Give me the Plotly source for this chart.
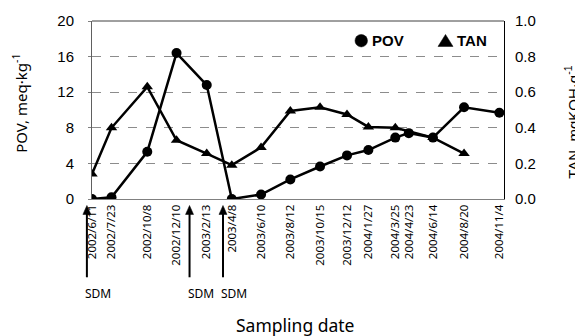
import plotly.graph_objects as go
from datetime import date

dates = ["2002-06-11", "2002-07-23", "2002-10-08", "2002-12-10", "2003-02-13",
         "2003-04-08", "2003-06-10", "2003-08-12", "2003-10-15", "2003-12-12",
         "2004-01-27", "2004-03-25", "2004-04-23", "2004-06-14", "2004-08-20",
         "2004-11-04"]
tick_labels = ["2002/6/11", "2002/7/23", "2002/10/8", "2002/12/10", "2003/2/13",
               "2003/4/8", "2003/6/10", "2003/8/12", "2003/10/15", "2003/12/12",
               "2004/1/27", "2004/3/25", "2004/4/23", "2004/6/14", "2004/8/20",
               "2004/11/4"]
pov = [0.0, 0.2, 5.3, 16.4, 12.8, 0.0, 0.5, 2.2, 3.65, 4.9, 5.5, 6.9, 7.4, 6.9, 10.3, 9.7]
tan = [0.14, 0.40, 0.63, 0.33, 0.255, 0.19, 0.29, 0.495, 0.515, 0.475, 0.405, 0.40,
       None, 0.345, 0.255, None]
sdm_dates = ["2002-05-31", "2003-01-07", "2003-03-20"]
x_range = ["2002-06-11", "2004-11-14"]

# page geometry (pixels); the page body adds an 8px offset
OFF = 8
W, H = 583, 336
PX0, PX1, PY0, PY1 = 92, 504, 21, 199.5   # plot area in window pixels
L, T = PX0 - OFF, PY0 - OFF
R = (W + OFF) - PX1
B = (H + OFF) - PY1
PW, PH = PX1 - PX0, PY1 - PY0


def date_frac(d):
    d0 = date.fromisoformat(x_range[0])
    d1 = date.fromisoformat(x_range[1])
    return (date.fromisoformat(d) - d0).days / (d1 - d0).days


def fx(px):
    return (px - PX0) / PW


def fy(py):
    return (PY1 - py) / PH


def tri_path(cx, cy, half_w, h):
    # upward triangle, pixel centre -> paper coords
    return (f"M {fx(cx - half_w)} {fy(cy + h / 2)} L {fx(cx + half_w)} {fy(cy + h / 2)} "
            f"L {fx(cx)} {fy(cy - h / 2)} Z")


fig = go.Figure()
fig.add_trace(go.Scatter(x=dates, y=pov, mode="lines+markers", name="POV", showlegend=False,
                         line=dict(color="black", width=2.5),
                         marker=dict(symbol="circle", size=10, color="black")))
fig.add_trace(go.Scatter(x=dates, y=tan, mode="lines+markers", name="TAN", yaxis="y2",
                         showlegend=False, connectgaps=True,
                         line=dict(color="black", width=2.5),
                         marker=dict(symbol="triangle-up", size=10, color="black")))

shapes = [dict(type="line", xref="paper", yref="paper", x0=0, x1=1, y0=1, y1=1,
               line=dict(color="#404040", width=1))]

# SDM arrows
for d in sdm_dates:
    xf = date_frac(d)
    xp = PX0 + xf * PW
    shapes.append(dict(type="line", xref="paper", yref="paper", x0=xf, x1=xf,
                       y0=fy(278), y1=fy(212), line=dict(color="black", width=2)))
    shapes.append(dict(type="path", xref="paper", yref="paper",
                       path=tri_path(xp, 210.5, 4, 9), fillcolor="black",
                       line=dict(color="black", width=0.5)))
    fig.add_annotation(x=xf, xref="paper", y=fy(294), yref="paper", text="SDM",
                       showarrow=False, xanchor="left", yanchor="middle", xshift=-4,
                       font=dict(family="Noto Sans", size=12, color="black"))

# legend (symbol + label)
shapes.append(dict(type="circle", xref="paper", yref="paper",
                   x0=fx(355), x1=fx(367.5), y0=fy(47), y1=fy(34.5),
                   fillcolor="black", line=dict(color="black", width=0.5)))
shapes.append(dict(type="path", xref="paper", yref="paper",
                   path=tri_path(445.5, 40.5, 7.5, 12), fillcolor="black",
                   line=dict(color="black", width=0.5)))
fig.add_annotation(text="<b>POV</b>", xref="paper", yref="paper", x=fx(370), y=fy(41),
                   showarrow=False, xanchor="left", yanchor="middle",
                   font=dict(family="Liberation Sans", size=15, color="black"))
fig.add_annotation(text="<b>TAN</b>", xref="paper", yref="paper", x=fx(455), y=fy(41),
                   showarrow=False, xanchor="left", yanchor="middle",
                   font=dict(family="Liberation Sans", size=15, color="black"))

fig.add_annotation(text="Sampling date", xref="paper", yref="paper",
                   x=fx(295), y=fy(326),
                   showarrow=False, xanchor="center", yanchor="middle",
                   font=dict(family="Noto Sans", size=17.5, color="black"))
fig.add_annotation(text="TAN, mgKOH·g<sup>-1</sup>", xref="paper", yref="paper",
                   x=fx(572), y=fy(123), textangle=-90,
                   showarrow=False, xanchor="center", yanchor="middle",
                   font=dict(family="Liberation Sans", size=15, color="black"))
fig.add_annotation(text="POV, meq·kg<sup>-1</sup>", xref="paper", yref="paper",
                   x=fx(20), y=fy(104), textangle=-90,
                   showarrow=False, xanchor="center", yanchor="middle",
                   font=dict(family="Noto Sans", size=15, color="black"))

fig.update_layout(
    width=W, height=H,
    margin=dict(l=L, r=R, t=T, b=B, pad=0),
    paper_bgcolor="white", plot_bgcolor="white",
    font=dict(family="Liberation Sans", color="black"),
    showlegend=False,
    xaxis=dict(type="date", range=x_range, automargin=False,
               tickmode="array", tickvals=dates, ticktext=tick_labels, tickangle=-90,
               tickfont=dict(family="Noto Sans", size=11.5, color="black"),
               showgrid=False, showline=True, linecolor="#808080", linewidth=1,
               mirror=False, ticks="", zeroline=False),
    yaxis=dict(range=[0, 20], tickvals=[0, 4, 8, 12, 16, 20], automargin=False,
               tickfont=dict(family="Liberation Sans", size=15, color="black"),
               showgrid=True, gridcolor="#8c8c8c", griddash="dash", gridwidth=1,
               showline=True, linecolor="#606060", linewidth=1, zeroline=False,
               ticks="outside", ticklen=3, tickcolor="#808080", ticklabelstandoff=11),
    yaxis2=dict(range=[0, 1], tickvals=[0, 0.2, 0.4, 0.6, 0.8, 1.0], tickformat=".1f",
                overlaying="y", side="right", showgrid=False, zeroline=False, automargin=False,
                tickfont=dict(family="Liberation Sans", size=15, color="black"),
                showline=True, linecolor="black", linewidth=1, ticks="", ticklabelstandoff=7),
    shapes=shapes,
)

fig.write_html("out.html")
